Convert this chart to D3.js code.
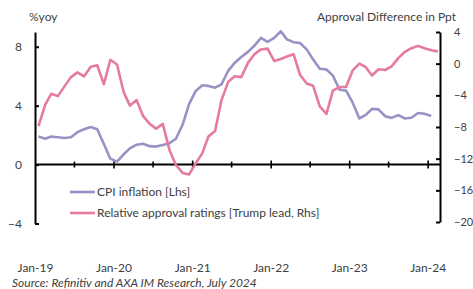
<!DOCTYPE html>
<html>
<head>
<meta charset="utf-8">
<script src="https://cdn.jsdelivr.net/npm/d3@7"></script>
<style>
body{margin:0;background:#fff;}
svg{display:block;font-family:Lato,'Open Sans',sans-serif;}
.lbl{fill:#404040;font-size:12px;}
</style>
</head>
<body>
<svg id="chart" width="473" height="289"></svg>
<script>
'use strict';

// monthly, starting Jan-19
var cpi=[1.9,1.75,1.9,1.85,1.8,1.85,2.2,2.4,2.55,2.4,
         1.4,0.4,0.2,0.7,1.1,1.35,1.42,1.25,1.22,1.33,
         1.45,1.75,2.7,4.1,5.0,5.38,5.34,5.22,5.45,6.36,
         6.9,7.3,7.65,8.07,8.6,8.33,8.6,9.05,8.5,8.31,
         8.25,7.82,7.13,6.5,6.45,6.04,5.08,5.02,4.2,3.13,
         3.35,3.78,3.75,3.28,3.17,3.36,3.13,3.18,3.5,3.45,
         3.3];
var approval=[-7.9,-5.2,-3.8,-4.1,-2.9,-1.7,-1.1,-1.6,-0.4,-0.2,
              -2.6,0.5,-0.1,-3.6,-5.3,-4.6,-6.6,-7.6,-8.2,-7.6,
              -10.9,-12.8,-13.8,-14.0,-12.6,-11.3,-9.2,-8.5,-4.6,-2.3,
              -1.6,-1.7,0.1,1.2,1.8,1.9,0.35,0.6,0.9,1.2,
              -1.4,-2.5,-2.8,-5.4,-6.35,-3.4,-2.95,-2.95,-0.85,0.0,
              -0.4,-1.5,-0.7,-0.8,-0.35,0.7,1.5,1.95,2.25,1.95,
              1.7,1.55];
var yearLabels=['Jan-19','Jan-20','Jan-21','Jan-22','Jan-23','Jan-24'];
var leftTicks=[-4,0,4,8];
var rightTicks=[4,0,-4,-8,-12,-16,-20];
var legendNames=['CPI inflation [Lhs]','Relative approval ratings [Trump lead, Rhs]'];

var colors=['#9892c6','#e57b9e'];

var svg=d3.select('#chart');
var parse=d3.timeParse('%b-%y');

var start=new Date(2019,0,15);
var months=function(n){
    return d3.range(n).map(function(i){return d3.timeMonth.offset(start,i);});
};

var x=d3.scaleTime()
    .domain([new Date(2019,0,1),new Date(2024,1,25)])
    .range([35.5,440]);
var yl=d3.scaleLinear().domain([-4,9]).range([223.5,32]);
var yr=d3.scaleLinear().domain([-20,4]).range([222,32]);

// left axis, ticks point inward
var la=svg.append('g')
    .attr('transform','translate(35,0)')
    .call(d3.axisLeft(yl).tickValues(leftTicks).tickSizeInner(-4).tickSizeOuter(0).tickPadding(13).tickFormat(d3.format('d')));
la.select('.domain').attr('stroke','#000').attr('stroke-width',2);
la.selectAll('.tick line').attr('stroke','#000').attr('stroke-width',2);
la.selectAll('.tick text').attr('class','lbl').attr('font-family','Lato,sans-serif');

var ra=svg.append('g')
    .attr('transform','translate(440,0)')
    .call(d3.axisRight(yr).tickValues(rightTicks).tickSizeInner(-4).tickSizeOuter(0).tickPadding(14).tickFormat(d3.format('d')));
ra.select('.domain').attr('stroke','#000').attr('stroke-width',2);
ra.selectAll('.tick line').attr('stroke','#000').attr('stroke-width',2);
ra.selectAll('.tick text').attr('class','lbl').attr('font-family','Lato,sans-serif')
    .style('font-size','11px');

// x axis on left zero
var y0=yl(0);
svg.append('line')
    .attr('x1',35).attr('x2',440)
    .attr('y1',y0).attr('y2',y0)
    .attr('stroke','#000').attr('stroke-width',2);

var halfTicks=d3.timeMonth.every(6).range(new Date(2019,6,1),new Date(2024,1,1));
svg.append('g').selectAll('line')
    .data(halfTicks)
    .join('line')
    .attr('x1',function(d){return x(d);})
    .attr('x2',function(d){return x(d);})
    .attr('y1',function(d){return d.getMonth()===0?y0-4:y0-3;})
    .attr('y2',function(d){return d.getMonth()===0?y0+4:y0+3;})
    .attr('stroke','#000').attr('stroke-width',1.6);

svg.append('g').selectAll('text')
    .data(yearLabels)
    .join('text')
    .attr('class','lbl')
    .attr('x',function(d){return x(parse(d));})
    .attr('y',272)
    .attr('text-anchor','middle')
    .text(function(d){return d;});

svg.append('text').attr('class','lbl')
    .attr('x',29).attr('y',21)
    .text('%yoy');
svg.append('text').attr('class','lbl')
    .attr('x',456).attr('y',21)
    .attr('text-anchor','end')
    .text('Approval Difference in Ppt');

var line=function(scale){
    return d3.line()
        .x(function(d,i){return x(d.date);})
        .y(function(d){return scale(d.v);});
};

var cpiData=months(cpi.length).map(function(d,i){return {date:d,v:cpi[i]};});
var appData=months(approval.length).map(function(d,i){return {date:d,v:approval[i]};});

svg.append('path')
    .datum(cpiData)
    .attr('d',line(yl))
    .attr('fill','none')
    .attr('stroke',colors[0])
    .attr('stroke-width',2.6)
    .attr('stroke-linejoin','round');

svg.append('path')
    .datum(appData)
    .attr('d',line(yr))
    .attr('fill','none')
    .attr('stroke',colors[1])
    .attr('stroke-width',2.6)
    .attr('stroke-linejoin','round');

var lg=svg.append('g').selectAll('g')
    .data(legendNames)
    .join('g')
    .attr('transform',function(d,i){return 'translate(70,'+(192+i*21)+')';});
lg.append('line')
    .attr('x1',0).attr('x2',25)
    .attr('stroke',function(d,i){return colors[i];})
    .attr('stroke-width',2.6);
lg.append('text')
    .attr('class','lbl')
    .attr('x',27).attr('dy','0.35em')
    .text(function(d){return d;});

svg.append('text')
    .attr('x',12).attr('y',287)
    .attr('fill','#404040')
    .attr('font-size','12px')
    .attr('font-style','italic')
    .text('Source: Refinitiv and AXA IM Research, July 2024');
</script>
</body>
</html>
